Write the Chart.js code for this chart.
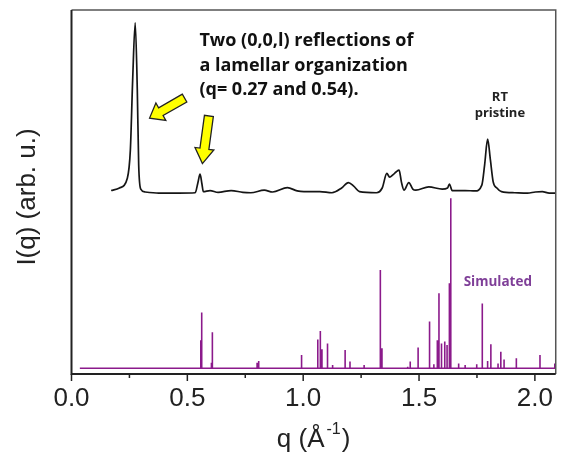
<!DOCTYPE html>
<html>
<head>
<meta charset="utf-8">
<script src="https://cdn.jsdelivr.net/npm/chart.js@4.4.0/dist/chart.umd.min.js"></script>
<style>
  html, body { margin: 0; padding: 0; background: #fff; }
  #wrap { width: 562px; height: 452px; }
</style>
</head>
<body>
<div id="wrap"><canvas id="saxs"></canvas></div>
<script>
// measured pattern (RT pristine), q in 1/A, intensity in arbitrary units
const qExp = [0.171, 0.207, 0.241, 0.254, 0.264, 0.275, 0.284, 0.290, 0.299, 0.318, 0.377, 0.463,
  0.534, 0.546, 0.555, 0.563, 0.569, 0.598, 0.633, 0.689, 0.740, 0.774, 0.832, 0.868, 0.932, 0.974,
  1.003, 1.072, 1.124, 1.166, 1.195, 1.218, 1.243, 1.316, 1.341, 1.361, 1.373, 1.387, 1.401, 1.414,
  1.424, 1.435, 1.456, 1.473, 1.486, 1.542, 1.600, 1.623, 1.631, 1.643, 1.699, 1.742, 1.771, 1.783,
  1.796, 1.808, 1.820, 1.836, 1.856, 1.913, 1.968, 2.002, 2.032, 2.062, 2.090];
const iExp = [50.4, 51.1, 53.8, 61.5, 80.8, 96.5, 78.0, 57.4, 50.8, 50.0, 49.7, 49.7,
  49.8, 52.7, 54.9, 52.2, 50.1, 50.4, 49.9, 50.4, 49.9, 49.8, 50.5, 50.0, 51.2, 50.3,
  50.1, 50.1, 49.8, 51.1, 52.6, 51.6, 50.1, 49.8, 51.1, 55.1, 54.1, 54.7, 55.5, 56.0,
  52.7, 50.5, 52.6, 50.8, 50.5, 51.4, 50.8, 51.1, 52.2, 50.4, 50.4, 50.3, 51.9, 57.4,
  64.5, 58.8, 52.8, 51.1, 50.1, 49.8, 49.7, 50.0, 50.1, 49.7, 49.7];

// simulated reflections
const qSim = [0.558, 0.562, 0.604, 0.608, 0.801, 0.808, 0.993, 1.063, 1.074, 1.081, 1.105, 1.127,
  1.181, 1.202, 1.263, 1.333, 1.340, 1.451, 1.462, 1.496, 1.543, 1.547, 1.564, 1.579, 1.586,
  1.597, 1.611, 1.621, 1.631, 1.637, 1.671, 1.699, 1.749, 1.773, 1.796, 1.810, 1.841, 1.853,
  1.867, 1.920, 2.022, 2.086];
const iSim = [9.3, 16.9, 3.1, 11.5, 3.1, 3.6, 5.2, 9.5, 11.8, 6.8, 8.4, 2.5,
  6.6, 3.4, 2.5, 28.6, 7.1, 2.0, 3.4, 7.3, 7.7, 14.4, 2.7, 9.3, 22.2,
  8.4, 8.9, 8.0, 24.9, 48.3, 2.9, 2.5, 2.7, 19.4, 3.6, 8.2, 2.9, 6.1,
  4.0, 4.3, 5.2, 2.9];
const simBase = 1.6;
const simStart = 0.036;

const xMin = 0, xMax = 2.09;
const xTickValues = [0, 0.5, 1.0, 1.5, 2.0];
const xTickLabels = ['0.0', '0.5', '1.0', '1.5', '2.0'];

const expPts = qExp.map((q, i) => ({ x: q, y: iExp[i] }));
const simPts = [{ x: simStart, y: simBase }];
qSim.forEach((q, i) => {
  simPts.push({ x: q, y: simBase }, { x: q, y: iSim[i] }, { x: q, y: simBase });
});
simPts.push({ x: xMax, y: simBase });

function arrow(ctx, x1, y1, x2, y2, sw, hw, hl) {
  const dx = x2 - x1, dy = y2 - y1, len = Math.hypot(dx, dy);
  const ux = dx / len, uy = dy / len, nx = -uy, ny = ux;
  const bx = x2 - ux * hl, by = y2 - uy * hl;
  const p = [
    [x1 + nx * sw / 2, y1 + ny * sw / 2],
    [bx + nx * sw / 2, by + ny * sw / 2],
    [bx + nx * hw / 2, by + ny * hw / 2],
    [x2, y2],
    [bx - nx * hw / 2, by - ny * hw / 2],
    [bx - nx * sw / 2, by - ny * sw / 2],
    [x1 - nx * sw / 2, y1 - ny * sw / 2]
  ];
  ctx.beginPath();
  ctx.moveTo(p[0][0], p[0][1]);
  for (let k = 1; k < p.length; k++) ctx.lineTo(p[k][0], p[k][1]);
  ctx.closePath();
  ctx.fillStyle = '#ffff00';
  ctx.fill();
  ctx.lineWidth = 1.3;
  ctx.strokeStyle = '#222';
  ctx.stroke();
}

const decor = {
  id: 'decor',
  afterDraw(chart) {
    const { ctx, chartArea: a, scales: { x, y } } = chart;
    const px = v => x.getPixelForValue(v), py = v => y.getPixelForValue(v);
    ctx.save();

    // frame
    ctx.strokeStyle = '#555';
    ctx.lineWidth = 1.5;
    ctx.beginPath();
    ctx.moveTo(a.left, a.top); ctx.lineTo(a.right, a.top); ctx.lineTo(a.right, a.bottom);
    ctx.stroke();
    ctx.strokeStyle = '#222';
    ctx.lineWidth = 2;
    ctx.beginPath();
    ctx.moveTo(a.left, a.top); ctx.lineTo(a.left, a.bottom); ctx.lineTo(a.right, a.bottom);
    ctx.stroke();

    // x ticks: major every 0.5, minor every 0.25
    ctx.lineWidth = 1.5;
    for (let k = 0; k * 0.25 <= xMax; k++) {
      const xx = px(k * 0.25);
      ctx.beginPath();
      ctx.moveTo(xx, a.bottom);
      ctx.lineTo(xx, a.bottom + (k % 2 === 0 ? 7 : 4));
      ctx.stroke();
    }

    // axis titles
    ctx.fillStyle = '#222';
    ctx.textBaseline = 'alphabetic';
    const t1 = 'q (Å', t2 = '-1', t3 = ')';
    ctx.font = '26px "Liberation Sans", Arial, sans-serif';
    const w1 = ctx.measureText(t1).width, w3 = ctx.measureText(t3).width;
    ctx.font = '16px "Liberation Sans", Arial, sans-serif';
    const w2 = ctx.measureText(t2).width;
    const tx = (a.left + a.right) / 2 - (w1 + w2 + w3 + 3) / 2;
    const ty = 447;
    ctx.textAlign = 'left';
    ctx.font = '26px "Liberation Sans", Arial, sans-serif';
    ctx.fillText(t1, tx, ty);
    ctx.font = '16px "Liberation Sans", Arial, sans-serif';
    ctx.fillText(t2, tx + w1 + 2, ty - 13);
    ctx.font = '26px "Liberation Sans", Arial, sans-serif';
    ctx.fillText(t3, tx + w1 + w2 + 3, ty);

    ctx.save();
    ctx.translate(28, 197);
    ctx.rotate(-Math.PI / 2);
    ctx.textAlign = 'center';
    ctx.textBaseline = 'middle';
    ctx.fillText('I(q) (arb. u.)', 0, 0);
    ctx.restore();

    // annotations
    ctx.textAlign = 'left';
    ctx.textBaseline = 'alphabetic';
    ctx.fillStyle = '#111';
    ctx.font = 'bold 18px "Open Sans", sans-serif';
    const lx = px(0.552), ly = py(90.1);
    ['Two (0,0,l) reflections of', 'a lamellar organization', '(q= 0.27 and 0.54).']
      .forEach((s, k) => ctx.fillText(s, lx, ly + k * 24.5));

    ctx.textAlign = 'center';
    ctx.fillStyle = '#222';
    ctx.font = 'bold 13px "Open Sans", sans-serif';
    ctx.fillText('RT', px(1.849), py(75));
    ctx.fillText('pristine', px(1.849), py(70.5));

    ctx.fillStyle = '#7f3f98';
    ctx.font = 'bold 13.5px "Open Sans", sans-serif';
    ctx.fillText('Simulated', px(1.84), py(24.2));

    arrow(ctx, px(0.488), py(75.8), px(0.337), py(70.3), 9, 20, 13);
    arrow(ctx, px(0.593), py(70.9), px(0.565), py(57.8), 9, 19, 15);

    ctx.restore();
  }
};

new Chart(document.getElementById('saxs'), {
  type: 'line',
  data: {
    datasets: [{
      label: 'RT pristine',
      data: expPts,
      borderColor: '#151515',
      borderWidth: 1.7,
      pointRadius: 0,
      cubicInterpolationMode: 'monotone'
    }, {
      label: 'Simulated',
      data: simPts,
      borderColor: '#8b1a8b',
      borderWidth: 1.6,
      pointRadius: 0,
      tension: 0
    }]
  },
  options: {
    responsive: true,
    maintainAspectRatio: false,
    animation: false,
    layout: { padding: { left: 0, top: 10, right: 1, bottom: 0 } },
    plugins: { legend: { display: false }, tooltip: { enabled: false } },
    scales: {
      x: {
        type: 'linear',
        min: xMin,
        max: xMax,
        grid: { display: false, drawTicks: false },
        border: { display: false },
        afterBuildTicks: s => { s.ticks = xTickValues.map(v => ({ value: v })); },
        ticks: {
          padding: 9,
          color: '#222',
          font: { family: '"Liberation Sans", Arial, sans-serif', size: 26 },
          maxRotation: 0,
          autoSkip: false,
          callback: (v, i) => xTickLabels[i]
        },
        afterFit: s => { s.height = 78; }
      },
      y: {
        min: 0,
        max: 100,
        grid: { display: false },
        border: { display: false },
        ticks: { display: false },
        afterFit: s => { s.width = 71.5; }
      }
    }
  },
  plugins: [decor]
});
</script>
</body>
</html>
